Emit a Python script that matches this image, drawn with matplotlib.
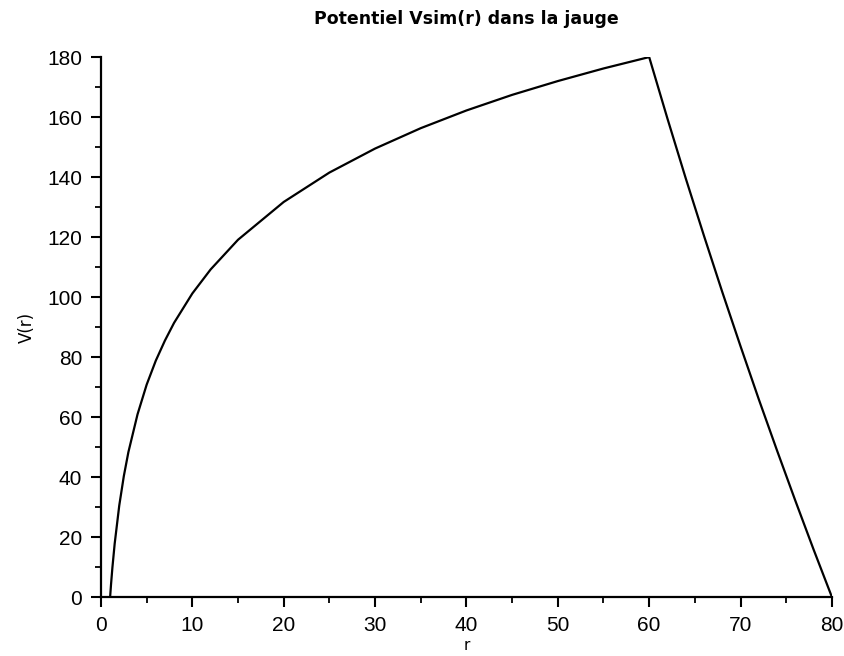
import matplotlib.pyplot as plt
from matplotlib.ticker import MultipleLocator

# values
r_rise = [1, 1.1, 1.25, 1.5, 2, 2.5, 3, 4, 5, 6, 7, 8, 10, 12, 15, 20, 25,
          30, 35, 40, 45, 50, 55, 60]
v_rise = [0, 4.2, 9.8, 17.8, 30.5, 40.3, 48.3, 60.9, 70.8, 78.8, 85.5, 91.4,
          101.2, 109.2, 119.1, 131.7, 141.5, 149.5, 156.3, 162.2, 167.4,
          172.0, 176.2, 180.0]
r_fall = [62, 64, 66, 68, 70, 72, 74, 76, 78, 80]
v_fall = [159.5, 139.6, 120.4, 101.7, 83.6, 65.9, 48.8, 32.1, 15.8, 0]

r = r_rise + r_fall
v = v_rise + v_fall

fig = plt.figure(figsize=(8.45, 6.56), dpi=100)
ax = fig.add_axes([0.1195, 0.0899, 0.865, 0.8231])
ax.plot(r, v, color="black", lw=1.6)

ax.set_xlim(0, 80)
ax.set_ylim(0, 180)
ax.xaxis.set_major_locator(MultipleLocator(10))
ax.xaxis.set_minor_locator(MultipleLocator(5))
ax.yaxis.set_major_locator(MultipleLocator(20))
ax.yaxis.set_minor_locator(MultipleLocator(10))

for side in ("top", "right"):
    ax.spines[side].set_visible(False)
for side in ("left", "bottom"):
    ax.spines[side].set_linewidth(1.6)
    ax.spines[side].set_clip_on(False)

ax.tick_params(which="major", direction="out", length=7.5, width=1.5,
               labelsize=15, pad=6)
ax.tick_params(which="minor", direction="out", length=4, width=1.3)
for lab in ax.get_xticklabels() + ax.get_yticklabels():
    lab.set_family("Liberation Sans")

ax.set_title("Potentiel Vsim(r) dans la jauge", fontsize=12.5, fontweight="bold", pad=24)
ax.set_ylabel("V(r)", fontsize=12, labelpad=8)
ax.set_xlabel("r", fontsize=11, labelpad=2)

fig.savefig("out.png", dpi=100)
